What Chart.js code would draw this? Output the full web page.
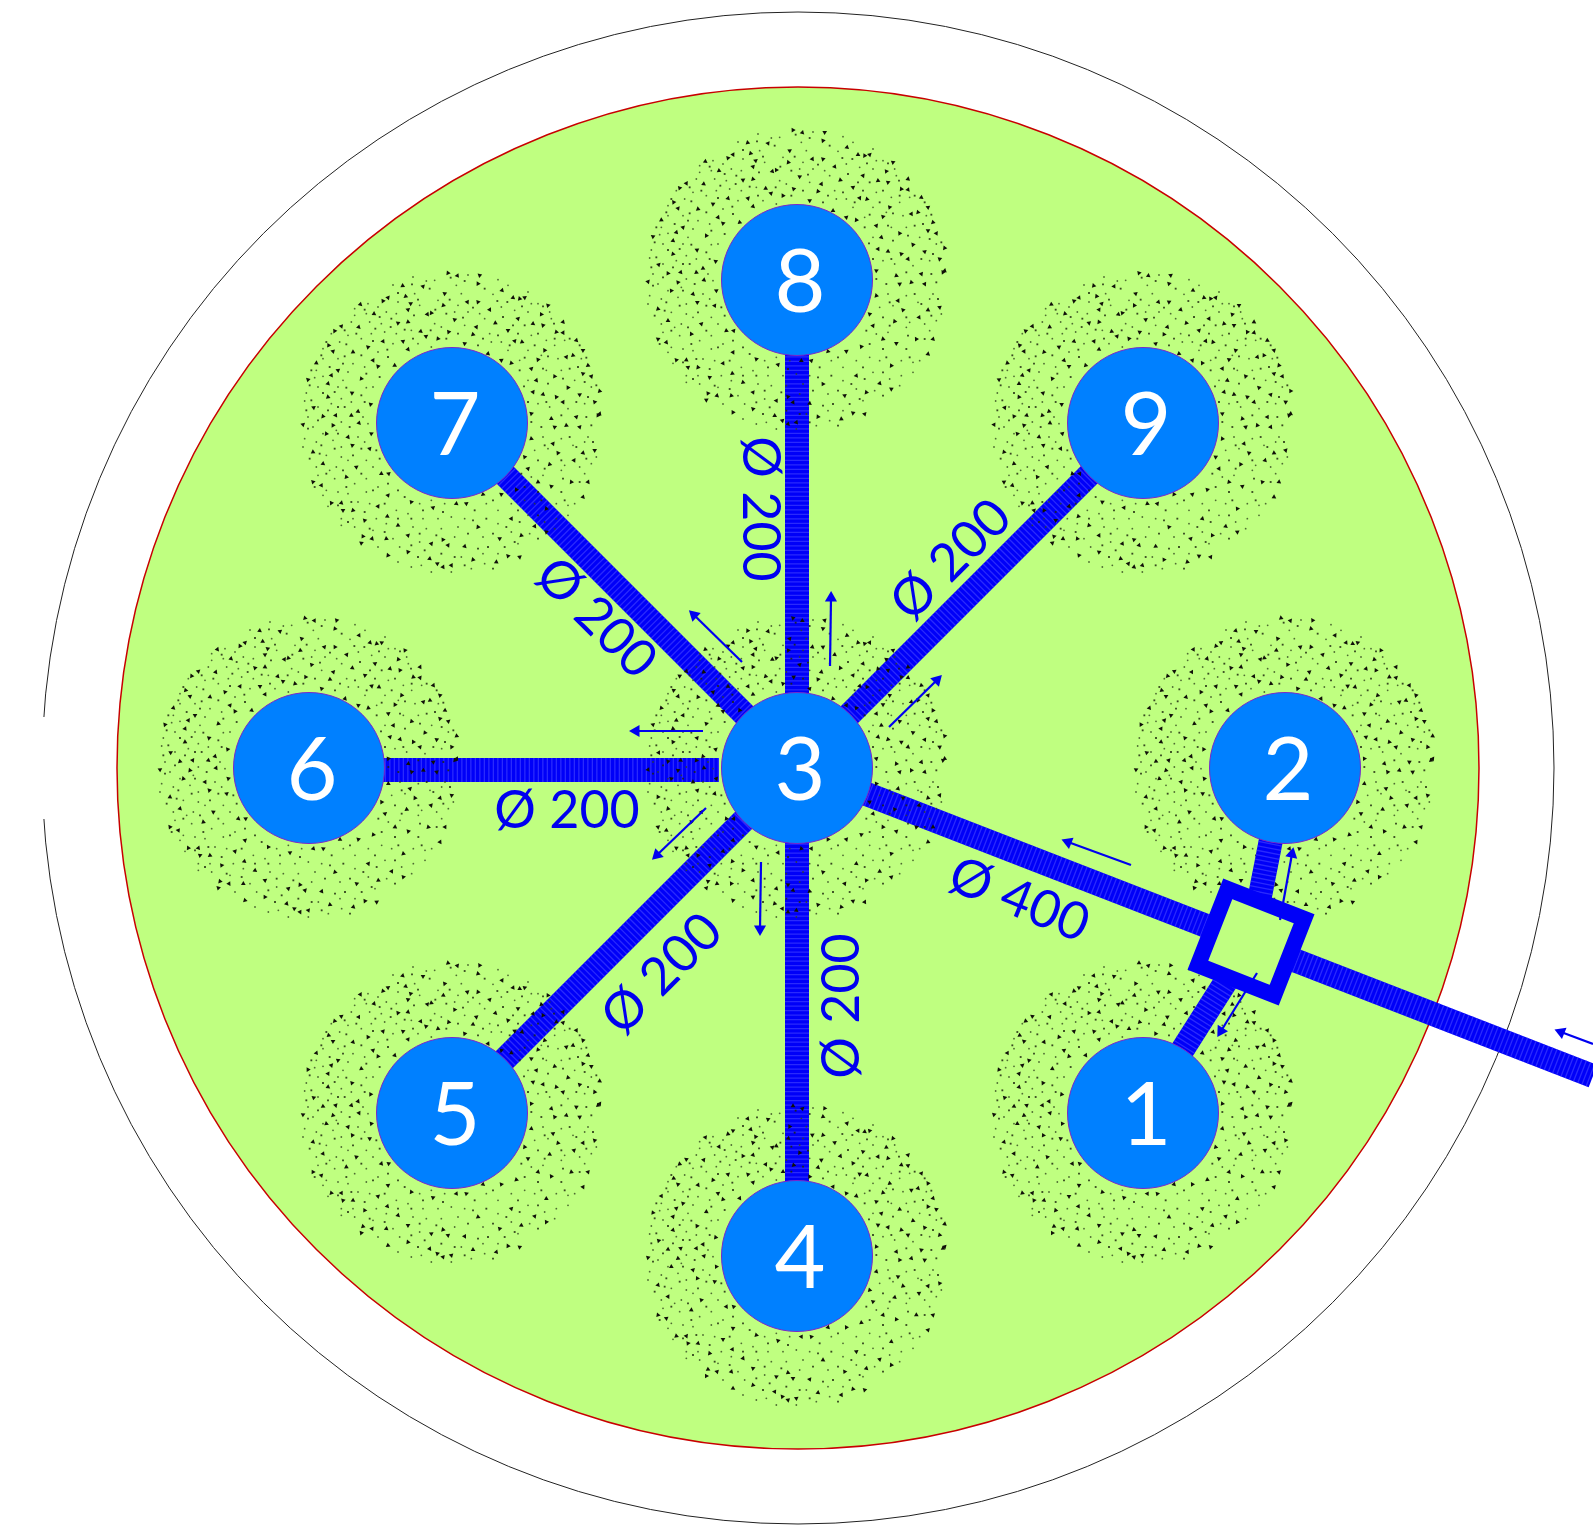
<!DOCTYPE html>
<html>
<head>
<meta charset="utf-8">
<title>Drain field</title>
<script src="https://cdn.jsdelivr.net/npm/chart.js@4/dist/chart.umd.min.js"></script>
<style>
    html, body { margin: 0; padding: 0; background: #fff; overflow: hidden; }
    canvas { display: block; }
</style>
</head>
<body>
<canvas id="plan" width="1593" height="1525"></canvas>
<script>
// nodes, all in picture pixels (the axes run 0-1593 and 0-1525)
const nodeNames = ["1", "2", "3", "4", "5", "6", "7", "8", "9"];
const nodeX = [1143, 1285, 797, 797, 452, 309, 452, 797, 1143];
const nodeY = [1113, 768, 768, 1256, 1113, 768, 423, 280, 423];

// green field and outer boundary
const fieldX = [798];
const fieldY = [768];

// pipes: start and end of each run
const pipeStartX = [797, 797, 797, 719, 797, 797, 797, 1285, 1143];
const pipeStartY = [767, 767, 767, 770, 767, 767, 767, 768, 1112];
const pipeEndX = [797, 1143, 452, 309, 452, 797, 1593, 1251, 1251];
const pipeEndY = [279, 421, 422, 770, 1112, 1256, 1076, 942, 942];

// pipe size labels
const sizeTexts = ["Ø 200", "Ø 200", "Ø 200", "Ø 200", "Ø 200", "Ø 200", "Ø 400"];
const sizeX = [760, 951, 596, 567, 662, 842, 1019];
const sizeY = [509, 560, 618, 811, 974, 1006, 900];
const sizeAngles = [90, -45, 45, 0, -45, -90, 22];

// flow arrows: tail, head centre, head rotation
const arrowTailX = [830, 742, 889, 703, 706, 761, 1131, 1280, 1257, 1593];
const arrowTailY = [666, 662, 727, 731, 808, 862, 865, 920, 973, 1044];
const arrowHeadX = [831, 694, 937, 636, 657, 760, 1068, 1292, 1221, 1561];
const arrowHeadY = [598, 615, 680, 731, 855, 929, 842, 854, 1031, 1032];
const arrowTurn = [1, -47, 44, -90, -134, 180, -68, 12, -148, -68];

// chamber on the main line
const chamberX = [1251];
const chamberY = [942];

// stipple of one soil patch, read off the patch around node 6
// (3x crop coordinates, node centre at 462,458). It is a hand estimate and thinner than the real one.
const stippleDark = [[450,8],[478,16],[545,15],[314,46],[375,48],[540,40],[612,60],[440,70],[323,78],[270,82],[255,92],[187,102],[338,100],[436,105],[508,95],[540,95],[645,82],[680,82],[665,85],[575,118],[750,105],[228,130],[330,118],[400,128],[388,132],[470,148],[592,158],[660,145],[730,132],[795,155],[300,158],[330,155],[130,168],[110,182],[182,170],[630,180],[525,192],[535,170],[452,185],[368,183],[384,198],[775,185],[795,187],[735,165],[705,160],[315,213],[420,205],[255,213],[210,230],[165,245],[105,243],[92,225],[330,237],[500,220],[672,215],[650,212],[740,240],[835,210],[855,240],[825,255],[805,260],[720,268],[570,250],[610,270],[640,278],[225,270],[240,288],[55,278],[120,300],[190,325],[100,315],[30,328],[290,285],[700,295],[770,318],[715,330],[855,310],[870,285],[880,318],[810,352],[90,340],[162,368],[90,380],[705,365],[775,380],[735,372],[845,373],[905,362],[795,395],[890,395],[180,423],[47,412],[75,438],[113,435],[218,402],[160,435],[15,463],[85,490],[150,500],[163,525],[45,545],[215,535],[105,465],[183,458],[220,490],[700,505],[765,520],[780,548],[855,548],[890,540],[755,582],[828,570],[680,560],[75,580],[175,590],[145,620],[70,645],[45,635],[250,610],[272,610],[820,635],[870,635],[760,648],[720,635],[690,595],[655,658],[855,680],[610,672],[555,672],[270,675],[100,698],[130,698],[135,720],[165,720],[240,708],[340,695],[475,700],[505,700],[745,715],[640,745],[200,750],[268,738],[405,712],[540,770],[710,768],[745,785],[300,765],[330,795],[195,798],[222,805],[190,818],[265,805],[400,820],[435,808],[500,828],[605,805],[670,795],[450,825],[330,845],[395,865],[418,880],[525,868],[460,885],[630,857],[595,875],[665,860],[270,855],[435,890],[700,430],[760,445],[835,440],[900,435],[905,430],[770,470],[805,465],[845,470]];
const stippleFine = [[345,20],[410,30],[385,32],[285,44],[510,14],[600,28],[585,72],[630,45],[690,65],[720,100],[475,45],[490,70],[350,70],[300,95],[240,110],[210,100],[170,115],[170,135],[205,130],[265,125],[295,130],[365,105],[420,90],[480,105],[470,125],[510,125],[545,130],[610,110],[650,120],[690,125],[755,125],[760,145],[700,100],[160,155],[215,155],[250,160],[260,185],[220,190],[150,195],[100,190],[75,235],[125,215],[190,205],[240,245],[285,220],[295,190],[340,180],[410,160],[430,170],[500,165],[560,145],[575,190],[610,215],[700,195],[745,210],[770,225],[800,210],[690,240],[630,240],[580,215],[400,230],[360,220],[55,300],[75,265],[120,265],[165,280],[200,290],[150,305],[50,322],[75,318],[135,330],[225,350],[205,352],[60,350],[25,368],[20,392],[120,350],[130,385],[160,395],[100,400],[60,410],[30,440],[45,470],[75,490],[115,480],[130,455],[195,440],[210,460],[20,505],[15,530],[55,515],[105,510],[130,530],[180,500],[200,515],[85,555],[130,560],[150,570],[55,590],[95,600],[115,590],[205,570],[225,590],[60,615],[110,625],[170,640],[205,625],[85,660],[120,665],[150,670],[205,665],[240,650],[75,675],[180,695],[215,700],[90,708],[130,745],[130,765],[165,745],[235,745],[170,770],[225,780],[265,760],[295,720],[330,730],[365,700],[400,690],[440,700],[375,745],[420,745],[460,740],[500,745],[565,700],[600,720],[640,700],[680,690],[710,700],[775,700],[810,705],[830,700],[810,735],[775,745],[690,735],[600,760],[480,770],[430,775],[385,775],[345,770],[285,805],[240,830],[305,830],[365,815],[470,800],[555,800],[640,785],[695,790],[770,775],[740,755],[300,875],[340,890],[370,885],[400,905],[460,905],[490,860],[555,850],[560,880],[600,850],[520,895],[660,820],[700,620],[735,615],[790,600],[860,610],[845,590],[800,585],[880,580],[895,560],[825,525],[750,535],[710,540],[735,500],[790,505],[860,515],[870,500],[720,400],[755,410],[810,415],[860,400],[880,350],[830,330],[790,300],[745,300],[690,330],[665,270],[730,255],[780,265],[850,265]];
const stippleMid = [[458,22],[500,32],[560,55],[395,55],[342,42],[300,68],[360,88],[412,118],[455,88],[525,112],[598,92],[628,95],[672,108],[735,108],[200,118],[245,140],[280,145],[348,135],[445,130],[495,142],[615,140],[645,165],[680,165],[768,160],[140,180],[175,190],[232,175],[278,170],[320,178],[398,180],[480,190],[555,205],[600,195],[660,190],[720,190],[815,205],[85,215],[145,222],[225,212],[268,238],[345,205],[445,205],[540,225],[635,225],[710,225],[770,205],[845,225],[70,255],[140,258],[190,255],[270,260],[680,262],[750,258],[865,262],[40,300],[95,290],[135,280],[205,310],[245,320],[665,300],[735,295],[815,295],[840,290],[35,345],[75,368],[110,365],[145,352],[190,375],[678,348],[750,340],[795,325],[860,335],[895,345],[40,390],[120,410],[200,395],[690,395],[745,395],[835,395],[870,380],[25,420],[90,420],[140,410],[700,455],[730,470],[790,435],[865,440],[880,465],[30,475],[60,450],[155,470],[70,525],[120,490],[190,535],[235,540],[740,525],[815,500],[835,530],[885,515],[35,565],[65,550],[110,535],[165,555],[245,565],[720,570],[790,570],[865,565],[85,610],[135,600],[190,610],[270,640],[670,610],[740,595],[795,625],[845,635],[50,650],[145,650],[225,660],[300,660],[680,650],[720,665],[790,665],[120,705],[160,695],[260,700],[320,680],[375,720],[435,725],[530,720],[585,690],[660,720],[730,690],[800,690],[150,755],[200,725],[300,745],[340,745],[525,750],[565,745],[625,770],[665,755],[720,735],[215,775],[260,785],[365,790],[415,795],[510,790],[585,790],[650,815],[720,805],[340,825],[380,840],[430,850],[540,835],[570,830],[620,830],[360,860],[470,860],[500,885],[585,895]];

const WIDTH = 1593;
const HEIGHT = 1525;

const pipePoints = i => [{ x: pipeStartX[i], y: pipeStartY[i] }, { x: pipeEndX[i], y: pipeEndY[i] }];
const patchPoints = (list, idxs) => idxs.flatMap(n =>
    list.map(p => ({ x: nodeX[n] + (p[0] - 462) / 3, y: nodeY[n] + (p[1] - 458) / 3 })));

function pointLayer(points, style) {
    return Object.assign({ type: "scatter", data: points, showLine: false, pointBorderWidth: 0 }, style);
}

function patchLayers(idxs) {
    return [
        pointLayer(patchPoints(stippleFine, idxs), { pointRadius: 0.9, pointBackgroundColor: "rgba(50,70,30,0.8)" }),
        pointLayer(patchPoints(stippleMid, idxs), { pointStyle: "rect", pointRadius: 1.3, pointBackgroundColor: "rgba(30,40,15,0.85)" }),
        pointLayer(patchPoints(stippleDark, idxs), {
            pointStyle: "triangle", pointRadius: 2.7, pointBackgroundColor: "#101008",
            pointRotation: ctx => ctx.dataIndex * 47
        })
    ];
}

// bottom to top
const layers = [];

layers.push(pointLayer([{ x: fieldX[0], y: fieldY[0] }], {
    pointRadius: 756, pointBackgroundColor: "transparent", pointBorderColor: "#222", pointBorderWidth: 1
}));
// opening in the boundary on the left
layers.push({ type: "scatter", showLine: true, pointRadius: 0, borderColor: "#fff", borderWidth: 8,
    data: [{ x: 43, y: 717 }, { x: 43, y: 819 }] });
layers.push(pointLayer([{ x: fieldX[0], y: fieldY[0] }], {
    pointRadius: 681, pointBackgroundColor: "#bfff80", pointBorderColor: "#c80000", pointBorderWidth: 1.5
}));

layers.push(...patchLayers([0, 1]));

pipeStartX.forEach((_, i) => {
    layers.push({ type: "scatter", showLine: true, pointRadius: 0, borderColor: "#0000f8", borderWidth: 24, data: pipePoints(i) });
    layers.push({ type: "scatter", showLine: true, pointRadius: 0, borderColor: "rgba(70,70,255,0.6)", borderWidth: 24,
        borderDash: [1.3, 3.2], data: pipePoints(i) });
});

layers.push(...patchLayers([3, 4, 5, 6, 7, 8, 2]));

// chamber inside stays open, the flow arrows show through it
layers.push(pointLayer([{ x: chamberX[0], y: chamberY[0] }], {
    pointStyle: "rect", pointRotation: 21.4, pointRadius: 58, pointBackgroundColor: "#bfff80"
}));

arrowTailX.forEach((_, i) => {
    layers.push({
        type: "scatter", showLine: true, borderColor: "#0000f0", borderWidth: 2.2,
        data: [{ x: arrowTailX[i], y: arrowTailY[i] }, { x: arrowHeadX[i], y: arrowHeadY[i] }],
        pointStyle: "triangle", pointRadius: [0, 7], pointBorderWidth: 0,
        pointBackgroundColor: "#0000f0", pointRotation: [0, arrowTurn[i]]
    });
});

layers.push(pointLayer([{ x: chamberX[0], y: chamberY[0] }], {
    pointStyle: "rect", pointRotation: 21.4, pointRadius: 58, pointBackgroundColor: "transparent",
    pointBorderColor: "#0000f8", pointBorderWidth: 16
}));

layers.push(pointLayer(nodeX.map((x, i) => ({ x, y: nodeY[i] })), {
    pointRadius: 75.5, pointBackgroundColor: "#0080ff", pointBorderColor: "#7a28c8", pointBorderWidth: 1
}));

const planText = {
    id: "planText",
    afterDatasetsDraw(chart) {
        const { ctx, scales } = chart;
        ctx.save();
        ctx.textAlign = "center";
        ctx.textBaseline = "middle";
        ctx.fillStyle = "#fff";
        ctx.font = "400 88px Lato";
        nodeNames.forEach((name, i) => {
            ctx.fillText(name, scales.x.getPixelForValue(nodeX[i]) + 3, scales.y.getPixelForValue(nodeY[i]) + 4);
        });
        ctx.fillStyle = "#0000f0";
        ctx.font = "400 52px Lato";
        sizeTexts.forEach((text, i) => {
            ctx.save();
            ctx.translate(scales.x.getPixelForValue(sizeX[i]), scales.y.getPixelForValue(sizeY[i]));
            ctx.rotate(sizeAngles[i] * Math.PI / 180);
            ctx.fillText(text, 0, 0);
            ctx.restore();
        });
        ctx.restore();
    }
};

new Chart(document.getElementById("plan"), {
    type: "scatter",
    data: { datasets: layers.map((layer, i) => Object.assign(layer, { order: layers.length - i })) },
    options: {
        responsive: false,
        animation: false,
        events: [],
        layout: { padding: 0, autoPadding: false },
        scales: {
            x: { type: "linear", min: 0, max: WIDTH, display: false },
            y: { type: "linear", min: 0, max: HEIGHT, reverse: true, display: false }
        },
        plugins: { legend: { display: false }, tooltip: { enabled: false } }
    },
    plugins: [planText]
});
</script>
</body>
</html>
